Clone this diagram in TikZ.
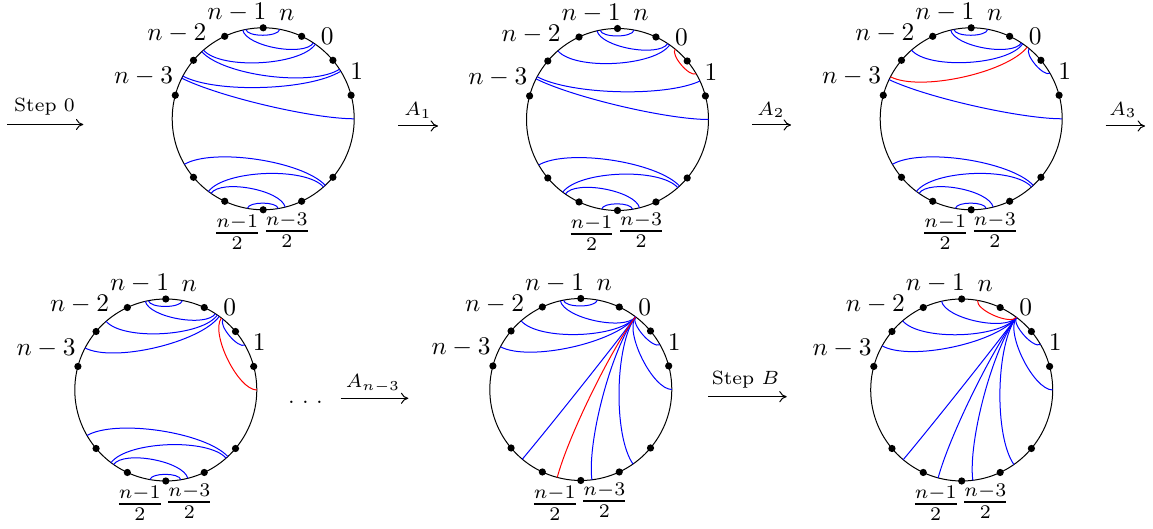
\documentclass[tikz,border=0pt]{standalone}
\usepackage{amsmath}
\usepackage{graphicx}
\usetikzlibrary{arrows.meta}

\tikzset{
  rim/.style={draw=black, line width=0.5pt},
  cb/.style={draw=blue, line width=0.5pt},
  cr/.style={draw=red, line width=0.5pt},
  lab/.style={inner sep=0pt},
  trans/.style={line width=0.5pt, -{To[length=3.7pt,width=5.6pt]}},
}

% scaled text helpers
\newcommand\Lb[1]{\scalebox{1.27}{$#1$}}
\newcommand\Fr[1]{\scalebox{1.38}{$\genfrac{}{}{0.8pt}{1}{#1}{2}$}}
\newcommand\Ar[1]{\scalebox{1.37}{$\scriptstyle #1$}}
\newcommand\St[1]{\scalebox{1.37}{\scriptsize #1}}

\newcommand\chord[5][cb]{%
  \coordinate (#2) at (#3:91);%
  \coordinate (#4) at (#5:91);%
  \pgfmathsetmacro\chOut{#3+180}%
  \pgfmathsetmacro\chIn{#5+180}%
  \draw[#1] (#2) to[out=\chOut,in=\chIn,looseness=0.6] (#4);%
}

\newcommand\diskbase{%
  \coordinate (O) at (0,0);
  \draw[rim] (O) circle[radius=91];
  \node[lab] (lnm1) at (-26.3,106.5) {\Lb{n-1}};
  \node[lab] (ln) at (23.5,104) {\Lb{n}};
  \node[lab] (lzero) at (64,82.5) {\Lb{0}};
  \node[lab] (lone) at (93.5,47.5) {\Lb{1}};
  \node[lab] (lnm2) at (-86.3,85.5) {\Lb{n-2}};
  \node[lab] (lnm3) at (-119.7,42) {\Lb{n-3}};
  \node[lab] (lh1) at (-26,-113.5) {\Fr{n-1}};
  \node[lab] (lh3) at (23.6,-111) {\Fr{n-3}};
}
\newcommand\diskdots{%
  \foreach \a in {165,140,115,90,65,40,15,-40,-65,-90,-115,-140}
    {\fill (\a:91) circle[radius=3.6];}%
}
\newcommand\diskbottom{%
  \chord{hi1}{-150}{hi2}{-47}
  \chord{ji1}{-127}{ji2}{-48.5}
  \chord{jk1}{-125}{jk2}{-76}
  \chord{lm1}{-100}{lm2}{-80.5}
}

\begin{document}
\begin{tikzpicture}[x=0.5pt,y=0.5pt]
\useasboundingbox (0,0) rectangle (1153,529);

% ---------- circle 1
\begin{scope}[shift={(263.2,410.2)}, name prefix=c1-]
  \diskbase
  \chord{ab1}{101}{ab2}{79.5}
  \chord{ac1}{103}{ac2}{56.5}
  \chord{dc1}{131}{dc2}{55}
  \chord{de1}{132.5}{de2}{33}
  \chord{fe1}{152}{fe2}{31.5}
  \chord{fg1}{153.5}{fg2}{0}
  \diskbottom
  \diskdots
\end{scope}

% ---------- circle 2
\begin{scope}[shift={(617.5,409.5)}, name prefix=c2-]
  \diskbase
  \chord{ab1}{101}{ab2}{79.5}
  \chord{ac1}{103}{ac2}{56.5}
  \chord{dc1}{131}{dc2}{55}
  \chord{fe1}{152}{fe2}{25}
  \chord{fg1}{153.5}{fg2}{0}
  \chord[cr]{ce1}{50.7}{ce2}{30.2}
  \diskbottom
  \diskdots
\end{scope}

% ---------- circle 3
\begin{scope}[shift={(971.2,410.2)}, name prefix=c3-]
  \diskbase
  \chord{ab1}{101}{ab2}{79.5}
  \chord{ac1}{103}{ac2}{56.5}
  \chord{dc1}{131}{dc2}{55.5}
  \chord{ce1}{50.5}{ce2}{30}
  \chord{fg1}{154.5}{fg2}{0}
  \chord[cr]{fc1}{152.5}{fc2}{52}
  \diskbottom
  \diskdots
\end{scope}

% ---------- circle 4
\begin{scope}[shift={(165.8,139)}, name prefix=c4-]
  \diskbase
  \chord{ab1}{101}{ab2}{79.5}
  \chord{ac1}{103}{ac2}{57}
  \chord{dc1}{131}{dc2}{55.5}
  \chord{fc1}{152.5}{fc2}{54}
  \chord{ce1}{51}{ce2}{29.6}
  \chord[cr]{cg1}{52.3}{cg2}{0}
  \diskbottom
  \diskdots
\end{scope}

% ---------- circle 5
\begin{scope}[shift={(580.8,139.5)}, name prefix=c5-]
  \diskbase
  \chord{ab1}{101}{ab2}{79.5}
  \chord{ac1}{103}{ac2}{53}
  \chord{dc1}{131}{dc2}{53}
  \chord{fc1}{152}{fc2}{53}
  \chord{cj1}{53}{cj2}{-130}
  \chord{ck1}{53}{ck2}{-83}
  \chord{ci1}{53}{ci2}{-55}
  \chord{cg1}{53}{cg2}{0}
  \chord{ce1}{53}{ce2}{29.5}
  \chord[cr]{cl1}{53}{cl2}{-105}
  \diskdots
\end{scope}

% ---------- circle 6
\begin{scope}[shift={(961.7,139)}, name prefix=c6-]
  \diskbase
  \chord{ac1}{102.8}{ac2}{53}
  \chord{dc1}{130.5}{dc2}{53}
  \chord{fc1}{151}{fc2}{53}
  \chord{cj1}{53}{cj2}{-130}
  \chord{cl1}{53}{cl2}{-105}
  \chord{ck1}{53}{ck2}{-83}
  \chord{ci1}{53}{ci2}{-55}
  \chord{cg1}{53}{cg2}{0}
  \chord{ce1}{53}{ce2}{30}
  \chord[cr]{bc1}{80}{bc2}{53}
  \diskdots
\end{scope}

% ---------- transitions
\coordinate (t0a) at (7.3,404.5);  \coordinate (t0b) at (83.3,404.5);
\draw[trans] (t0a) -- (t0b);
\node[lab] (t0l) at (44.5,422) {\St{Step 0}};

\coordinate (t1a) at (398,403);  \coordinate (t1b) at (438,403);
\draw[trans] (t1a) -- (t1b);
\node[lab] (t1l) at (418,418.5) {\Ar{A_1}};

\coordinate (t2a) at (752,404);  \coordinate (t2b) at (791,404);
\draw[trans] (t2a) -- (t2b);
\node[lab] (t2l) at (771,419) {\Ar{A_2}};

\coordinate (t3a) at (1105.7,403);  \coordinate (t3b) at (1145,403);
\draw[trans] (t3a) -- (t3b);
\node[lab] (t3l) at (1123,419) {\Ar{A_3}};

\node[lab, font=\fontsize{12.3}{14}\selectfont] (gap) at (305.5,126.8) {.\kern3.7pt.\kern3.7pt.};

\coordinate (t4a) at (340.7,130.7);  \coordinate (t4b) at (408.3,130.7);
\draw[trans] (t4a) -- (t4b);
\node[lab] (t4l) at (373,145.7) {\Ar{A_{n-3}}};

\coordinate (t5a) at (708.3,132.3);  \coordinate (t5b) at (786.7,132.3);
\draw[trans] (t5a) -- (t5b);
\node[lab] (t5l) at (745.5,149) {\St{Step $B$}};
\end{tikzpicture}
\end{document}
